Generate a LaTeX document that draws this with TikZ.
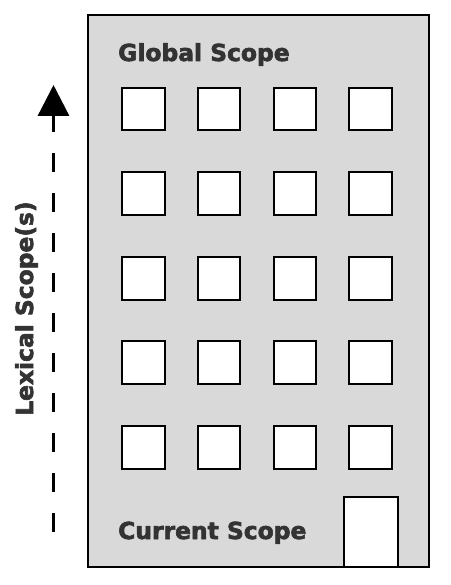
\documentclass[tikz,border=0pt]{standalone}
\usepackage{fontspec}
\setmainfont{DejaVu Sans}[BoldFeatures={FakeBold=2.5}]
\usetikzlibrary{arrows.meta}
\definecolor{wallgray}{HTML}{D9D9D9}
\definecolor{textgray}{HTML}{333333}
\tikzset{
  building/.style={draw=black, fill=wallgray, line width=2pt},
  window/.style={draw=black, fill=white, line width=2pt},
  label/.style={inner sep=0pt, text=textgray, font=\fontsize{23.4}{26}\selectfont\bfseries},
  scopearrow/.style={line width=3.3pt, dash pattern=on 19pt off 21pt, -{Triangle[width=31pt,length=31pt]}}
}
\begin{document}
\begin{tikzpicture}[x=1pt,y=-1pt]
\useasboundingbox (0,0) rectangle (450,585);
\draw[building] (88,15) rectangle (429,567);
\foreach \r/\yy in {1/88,2/172.5,3/257,4/341,5/426}{
  \foreach \c/\xx in {1/122,2/197.5,3/273.5,4/349}{
    \draw[window] (\xx,\yy) rectangle ++(42.5,42.5);
  }
}
\draw[window] (344,497) rectangle (398,567);
\node[label, anchor=base west] (global) at (118,61) {Global Scope};
\node[label, anchor=base west] (current) at (118,539) {Current Scope};
\node[label, anchor=base west, rotate=90] (lexical) at (33,416) {Lexical Scope(s)};
\coordinate (abot) at (53.5,532);
\coordinate (atop) at (53.5,85);
\draw[scopearrow] (abot) -- (atop);
\end{tikzpicture}
\end{document}
